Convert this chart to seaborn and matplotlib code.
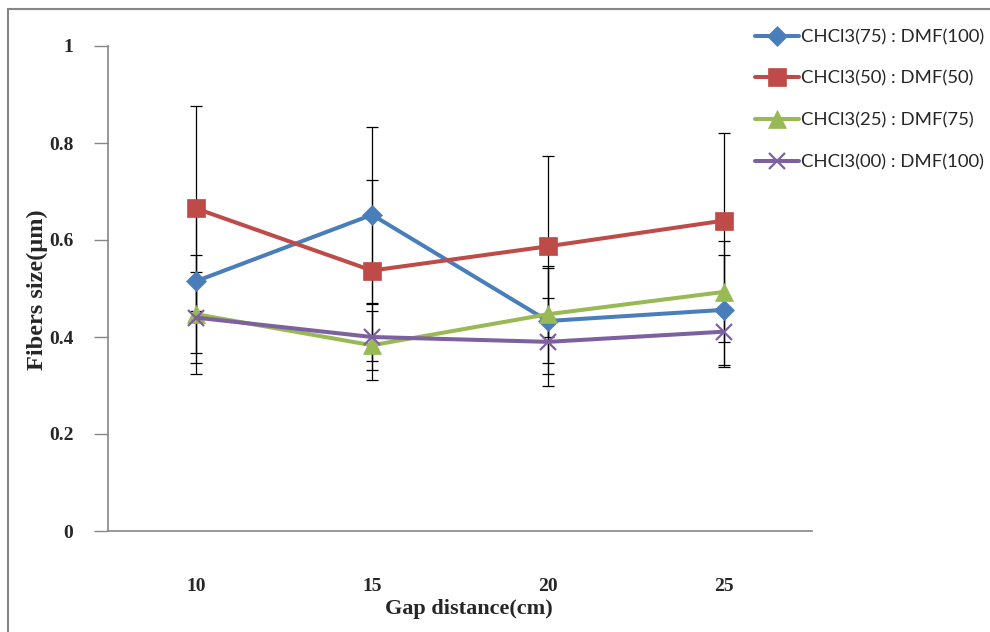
import matplotlib
matplotlib.use("Agg")
import matplotlib.pyplot as plt
import matplotlib.patches as mpatches
import seaborn as sns
import pandas as pd

# ---- data ----
gap_cm = [10, 15, 20, 25]
series_names = ["CHCl3(75) : DMF(100)", "CHCl3(50) : DMF(50)",
                "CHCl3(25) : DMF(75)", "CHCl3(00) : DMF(100)"]
blue_vals = [0.515, 0.652, 0.433, 0.456]
blue_err = [0.148, 0.182, 0.110, 0.114]
red_vals = [0.665, 0.537, 0.587, 0.640]
red_err = [0.211, 0.186, 0.187, 0.180]
green_vals = [0.447, 0.383, 0.447, 0.493]
green_err = [0.123, 0.071, 0.100, 0.104]
purple_vals = [0.440, 0.400, 0.390, 0.411]
purple_err = [0.094, 0.069, 0.090, 0.072]
y_ticks = [0, 0.2, 0.4, 0.6, 0.8, 1]
y_tick_labels = ["0", "0.2", "0.4", "0.6", "0.8", "1"]

values = [blue_vals, red_vals, green_vals, purple_vals]
errors = [blue_err, red_err, green_err, purple_err]
colors = ["#4A7EBB", "#BE4B48", "#98B954", "#7D60A0"]
markers = ["D", "s", "^", "x"]
msizes = [10, 12.5, 13, 12]

rows = []
for name, vals, errs in zip(series_names, values, errors):
    for g, v, e in zip(gap_cm, vals, errs):
        rows.append({"gap": g, "size": v, "err": e, "series": name})
df = pd.DataFrame(rows)

sns.set_theme(style="white")
plt.rcParams["font.family"] = ["Liberation Serif", "DejaVu Serif"]

fig = plt.figure(figsize=(9.9, 6.32), dpi=100)
ax = fig.add_axes([108 / 990, 1 - 531 / 632, 704 / 990, 485 / 632])

# error bars (below the lines)
for name in series_names:
    sub = df[df["series"] == name]
    ax.errorbar(sub["gap"], sub["size"], yerr=sub["err"], fmt="none",
                ecolor="black", elinewidth=0.9, capsize=4.5, capthick=0.9,
                zorder=1)

for name, col, mk, ms in zip(series_names, colors, markers, msizes):
    sub = df[df["series"] == name]
    sns.lineplot(data=sub, x="gap", y="size", ax=ax, color=col, marker=mk,
                 markersize=ms, linewidth=2.9, label=name,
                 markeredgecolor=col, markeredgewidth=1.6 if mk == "x" else 0.5,
                 zorder=3)

ax.set_xlim(7.5, 27.5)
ax.set_ylim(0, 1)
ax.set_xticks(gap_cm)
ax.set_xticklabels([str(g) for g in gap_cm], fontsize=14, fontweight="bold")
ax.set_yticks(y_ticks)
ax.set_yticklabels(y_tick_labels, fontsize=14, fontweight="bold")
ax.tick_params(axis="x", length=0, pad=34)
ax.tick_params(axis="y", length=10, width=1, color="#868686", pad=15,
               direction="out", left=True)

for side in ["top", "right"]:
    ax.spines[side].set_visible(False)
for side in ["left", "bottom"]:
    ax.spines[side].set_color("#868686")
    ax.spines[side].set_linewidth(1.2)
ax.grid(False)

ax.set_xlabel("Gap distance(cm)", fontsize=16, fontweight="bold")
ax.set_ylabel("Fibers size(\u00b5m)", fontsize=17.5, fontweight="bold")
ax.xaxis.set_label_coords((469 - 108) / 704, -(599 - 531) / 485)
ax.yaxis.set_label_coords((48 - 108) / 704, (531 - 290) / 485)

handles, labels = ax.get_legend_handles_labels()
leg = fig.legend(handles, labels, loc="upper left",
                 bbox_to_anchor=(755 / 990, 1 - 29 / 632),
                 frameon=False, borderpad=0, borderaxespad=0,
                 handlelength=2.4, handletextpad=0.1, labelspacing=1.38,
                 prop={"family": "Lato", "size": 13.3})
if ax.get_legend():
    ax.get_legend().remove()

# outer chart border
fig.patches.append(mpatches.Rectangle((8 / 990, -0.1), 1.2, (632 - 9) / 632 + 0.1,
                                      transform=fig.transFigure, fill=False,
                                      edgecolor="#868686", linewidth=1.5))

fig.savefig("out.png", dpi=100)
